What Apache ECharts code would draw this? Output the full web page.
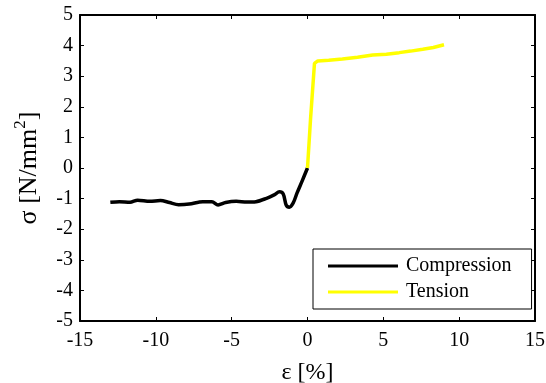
<!DOCTYPE html>
<html>
<head>
<meta charset="utf-8">
<script src="https://cdn.jsdelivr.net/npm/echarts@6/dist/echarts.min.js"></script>
<style>
  html, body { margin: 0; padding: 0; background: #fff; }
  #chart { width: 546px; height: 383px; }
</style>
</head>
<body>
<div id="chart"></div>
<script>
// strain [%] / stress [N/mm2]
const compressionX = [-13.0, -12.4, -11.7, -11.2, -10.4, -9.7, -9.1, -8.5, -7.8, -6.9, -6.3, -5.9, -5.4, -4.7, -4.0, -3.4, -2.7, -2.2, -1.85, -1.6, -1.4, -1.2, -0.95, -0.7, -0.35, 0.0];
const compressionY = [-1.12, -1.10, -1.12, -1.05, -1.09, -1.06, -1.13, -1.20, -1.18, -1.10, -1.10, -1.21, -1.13, -1.09, -1.11, -1.10, -0.99, -0.88, -0.78, -0.85, -1.22, -1.28, -1.15, -0.83, -0.42, 0.0];
const tensionX = [0.0, 0.2, 0.46, 0.68, 1.4, 2.3, 3.3, 4.3, 5.2, 6.05, 6.8, 7.6, 8.3, 9.0];
const tensionY = [0.0, 1.6, 3.42, 3.50, 3.52, 3.56, 3.62, 3.69, 3.72, 3.77, 3.82, 3.88, 3.94, 4.03];
const xTicks = [-15, 15, 5];
const yTicks = [-5, 5, 1];

const pairs = (xs, ys) => xs.map((x, i) => [x, ys[i]]);

const font = '"Liberation Serif", "Times New Roman", serif';

const axisBase = {
    type: 'value',
    axisLine: { show: true, onZero: false, lineStyle: { color: '#000', width: 2 } },
    axisTick: { show: true, inside: true, length: 4, lineStyle: { color: '#000', width: 1 } },
    splitLine: { show: false }
};

const chart = echarts.init(document.getElementById('chart'));

const options = {
    animation: false,
    backgroundColor: '#fff',
    grid: { left: 80, right: 11, top: 15, bottom: 62, containLabel: false, outerBoundsMode: 'none' },
    legend: {
        orient: 'vertical',
        left: 313,
        top: 249,
        padding: [7, 20, 7, 15],
        itemGap: 6,
        itemWidth: 70,
        itemHeight: 3,
        icon: 'rect',
        borderColor: '#000',
        borderWidth: 1,
        borderRadius: 0,
        backgroundColor: '#fff',
        textStyle: { fontFamily: font, fontSize: 20, color: '#000', padding: [0, 0, 0, 3] },
        data: ['Compression', 'Tension']
    },
    xAxis: [
        Object.assign({}, axisBase, {
            position: 'bottom',
            min: xTicks[0], max: xTicks[1], interval: xTicks[2],
            name: 'ε [%]',
            nameLocation: 'middle',
            nameGap: 40,
            nameTextStyle: { fontFamily: font, fontSize: 24, color: '#000' },
            axisLabel: { fontFamily: font, fontSize: 20, color: '#000', margin: 10 }
        }),
        Object.assign({}, axisBase, {
            position: 'top',
            min: xTicks[0], max: xTicks[1], interval: xTicks[2],
            axisLabel: { show: false }
        })
    ],
    yAxis: [
        Object.assign({}, axisBase, {
            position: 'left',
            min: yTicks[0], max: yTicks[1], interval: yTicks[2],
            name: '{t|σ [N/mm}{s|2}{t|]}',
            nameLocation: 'middle',
            nameGap: 38,
            nameTextStyle: {
                fontFamily: font, color: '#000',
                rich: {
                    t: { fontFamily: font, fontSize: 26, color: '#000', lineHeight: 30, verticalAlign: 'bottom' },
                    s: { fontFamily: font, fontSize: 17, color: '#000', lineHeight: 30, verticalAlign: 'top' }
                }
            },
            axisLabel: { fontFamily: font, fontSize: 20, color: '#000', margin: 7 }
        }),
        Object.assign({}, axisBase, {
            position: 'right',
            min: yTicks[0], max: yTicks[1], interval: yTicks[2],
            axisLabel: { show: false }
        })
    ],
    series: [
        {
            name: 'Compression',
            type: 'line',
            symbol: 'none',
            smooth: 0.3,
            data: pairs(compressionX, compressionY),
            lineStyle: { color: '#000', width: 3.5 },
            itemStyle: { color: '#000' }
        },
        {
            name: 'Tension',
            type: 'line',
            symbol: 'none',
            data: pairs(tensionX, tensionY),
            lineStyle: { color: '#ffff00', width: 3.5 },
            itemStyle: { color: '#ffff00' }
        }
    ]
};

chart.setOption(options);
</script>
</body>
</html>
